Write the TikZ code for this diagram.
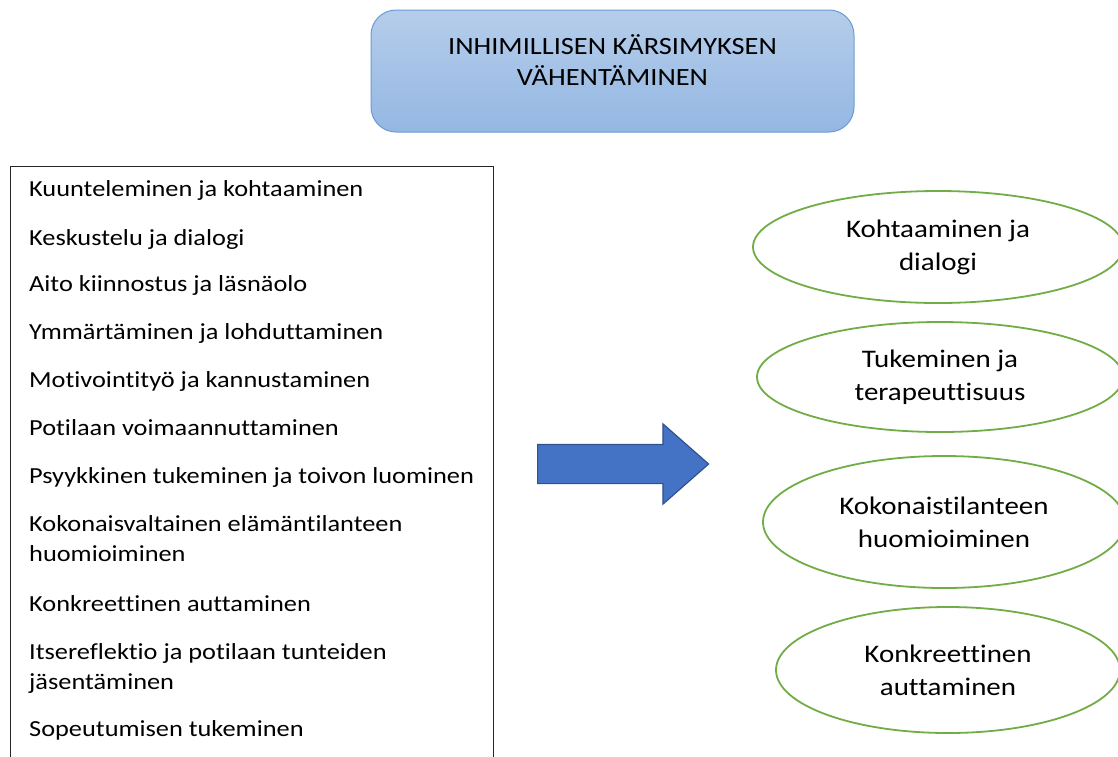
\documentclass[tikz,border=0pt]{standalone}
\usepackage{fontspec}
\setmainfont{Carlito}[FakeStretch=1.145,RawFeature={-liga;-clig;-calt;-rlig}]
\usetikzlibrary{shapes.geometric,shapes.arrows}
\definecolor{goaltop}{RGB}{181,205,234}
\definecolor{goalbot}{RGB}{148,183,227}
\definecolor{goalline}{RGB}{108,155,212}
\definecolor{arrowfill}{RGB}{68,114,196}
\definecolor{arrowline}{RGB}{47,82,143}
\definecolor{ovalline}{RGB}{112,173,71}
\tikzset{
    goalbox/.style={draw=goalline,line width=1pt,rounded corners=25pt,top color=goaltop,bottom color=goalbot,minimum width=483pt,minimum height=122pt,inner sep=0pt},
    goaltext/.style={align=center,inner sep=0pt,font=\fontsize{24.8}{31.5}\selectfont},
    listbox/.style={draw=black!85,line width=0.8pt,anchor=north west,minimum width=483pt,minimum height=620pt,inner sep=0pt},
    listitem/.style={anchor=base west,align=left,inner sep=0pt,font=\fontsize{23}{29.5}\selectfont},
    oval/.style={ellipse,draw=ovalline,line width=1.8pt,inner sep=0pt,align=center,font=\fontsize{25.3}{33}\selectfont},
    bigarrow/.style={single arrow,fill=arrowfill,draw=arrowline,line width=1.2pt,minimum height=171pt,inner ysep=19pt,inner xsep=0pt,single arrow head extend=20.5pt,single arrow tip angle=82.6}
}
\begin{document}
\begin{tikzpicture}[x=1pt,y=-1pt]
    \useasboundingbox (0,0) rectangle (1118,756);
    \clip (0,0) rectangle (1118,756);

    % goal
    \node[goalbox] (goal) at (612.5,71) {};
    \node[goaltext] (goaltxt) at ([yshift=11pt]goal.center) {INHIMILLISEN KÄRSIMYKSEN\\VÄHENTÄMINEN};

    % list of means (base = last line)
    \node[listbox] (list) at (10,166) {};
    \foreach \y/\t [count=\i] in {196/Kuunteleminen ja kohtaaminen,
        245/Keskustelu ja dialogi,
        291/Aito kiinnostus ja läsnäolo,
        339/Ymmärtäminen ja lohduttaminen,
        387/Motivointityö ja kannustaminen,
        435/Potilaan voimaannuttaminen,
        483/Psyykkinen tukeminen ja toivon luominen,
        561/{Kokonaisvaltainen elämäntilanteen\\huomioiminen},
        611/Konkreettinen auttaminen,
        689/{Itsereflektio ja potilaan tunteiden\\jäsentäminen},
        736/Sopeutumisen tukeminen}
        {\node[listitem] (item\i) at (29,\y) {\t};}

    % arrow
    \node[bigarrow,anchor=tail] (arrow) at (537,464) {};

    % themes
    \node[oval,minimum width=370pt,minimum height=112pt] (o1) at (938,247) {Kohtaaminen ja\\dialogi};
    \node[oval,minimum width=366pt,minimum height=110pt] (o2) at (940,377) {Tukeminen ja\\terapeuttisuus};
    \node[oval,minimum width=362pt,minimum height=132pt] (o3) at (944,522) {Kokonaistilanteen\\huomioiminen};
    \node[oval,minimum width=344pt,minimum height=126pt] (o4) at (948,670) {Konkreettinen\\auttaminen};
\end{tikzpicture}
\end{document}
